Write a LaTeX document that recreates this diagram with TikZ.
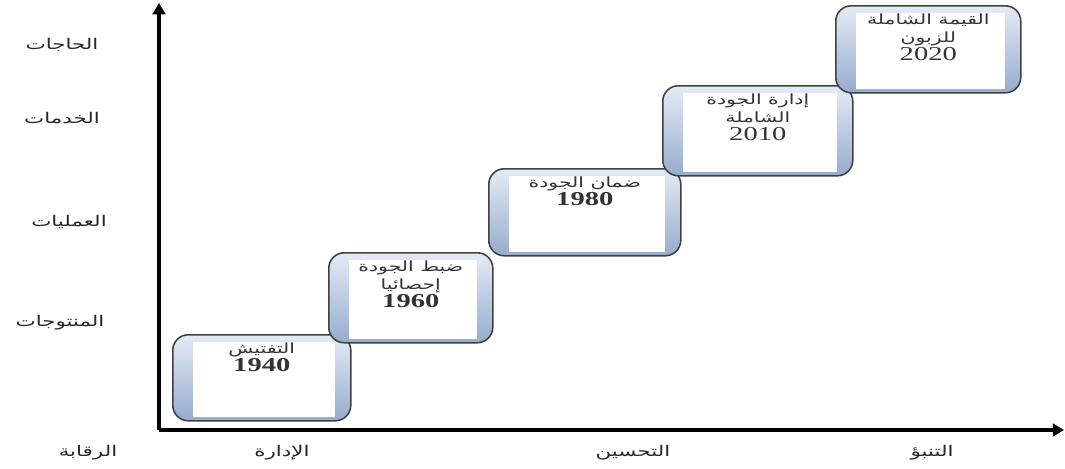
\documentclass[tikz,border=0pt]{standalone}
\usepackage{fontspec}
\setmainfont{Liberation Serif}
\newfontfamily\arabicfont[Script=Arabic]{DejaVu Sans}
\TeXXeTstate=1
\newcommand\ar[1]{{\arabicfont\beginR #1\endR}}
\newcommand\yr[1]{{\fontsize{14}{14}\selectfont\bfseries #1}}
\newcommand\yrl[1]{{\fontsize{14}{14}\selectfont #1}}
\usetikzlibrary{positioning,arrows.meta,calc}
\definecolor{frametop}{RGB}{228,235,245}
\definecolor{framebot}{RGB}{150,172,205}

\begin{document}
\begin{tikzpicture}[x=0.025cm,y=-0.025cm,
  axis/.style={line width=2.2pt,-{Triangle[length=8pt,width=9pt]}},
  era/.style={rectangle,rounded corners=11pt,draw=black!75,line width=1.1pt,
    top color=frametop,bottom color=framebot,anchor=north west,inner sep=0pt},
  eratext/.style={align=center,inner sep=0pt,text=black!80,
    font=\fontsize{10}{12}\selectfont,xscale=1.45,transform shape},
  lbl/.style={font=\arabicfont\fontsize{10.5}{12}\selectfont,text=black!85,
    xscale=1.45,transform shape}]
\useasboundingbox (0,0) rectangle (1065,468);

% axes
\coordinate (o) at (159,430);
\coordinate (ytop) at (159,3);
\coordinate (xend) at (1064,430);
\draw[axis] (o) -- (ytop);
\draw[axis] (o) -- (xend);

% stages
\foreach \nm/\x/\y/\w/\h in {b1940/172/334/178/86, b1960/328/252/164/90,
    b1980/488/168/192/87, b2010/662/85/190/90, b2020/835/5/185/87}{
  \node[era,minimum width=\w*0.025cm,minimum height=\h*0.025cm] (\nm) at (\x,\y) {};
  \fill[white] ($(\nm.north west)+(21,8)$) rectangle ($(\nm.south east)+(-17,-5)$);
}

\node[eratext,below=6pt of b1940.north] (t1940) {\ar{التفتيش}\\[1pt]\yr{1940}};
\node[eratext,below=6pt of b1960.north] (t1960) {\ar{ضبط الجودة}\\[1pt]\ar{إحصائيا}\\[1pt]\yr{1960}};
\node[eratext,below=6pt of b1980.north] (t1980) {\ar{ضمان الجودة}\\[1pt]\yr{1980}};
\node[eratext,below=6pt of b2010.north] (t2010) {\ar{إدارة الجودة}\\[1pt]\ar{الشاملة}\\[1pt]\yrl{2010}};
\node[eratext,below=6pt of b2020.north] (t2020) {\ar{القيمة الشاملة}\\[1pt]\ar{للزبون}\\[1pt]\yrl{2020}};

% left axis
\node[lbl] (needs) at (62,45) {\beginR الحاجات\endR};
\node[lbl] (services) at (62,118) {\beginR الخدمات\endR};
\node[lbl] (processes) at (69,222) {\beginR العمليات\endR};
\node[lbl] (products) at (60,323) {\beginR المنتوجات\endR};

% bottom axis
\node[lbl] (control) at (88,453) {\beginR الرقابة\endR};
\node[lbl] (management) at (282,453) {\beginR الإدارة\endR};
\node[lbl] (improvement) at (633,453) {\beginR التحسين\endR};
\node[lbl] (forecast) at (932,453) {\beginR التنبؤ\endR};
\end{tikzpicture}
\end{document}
